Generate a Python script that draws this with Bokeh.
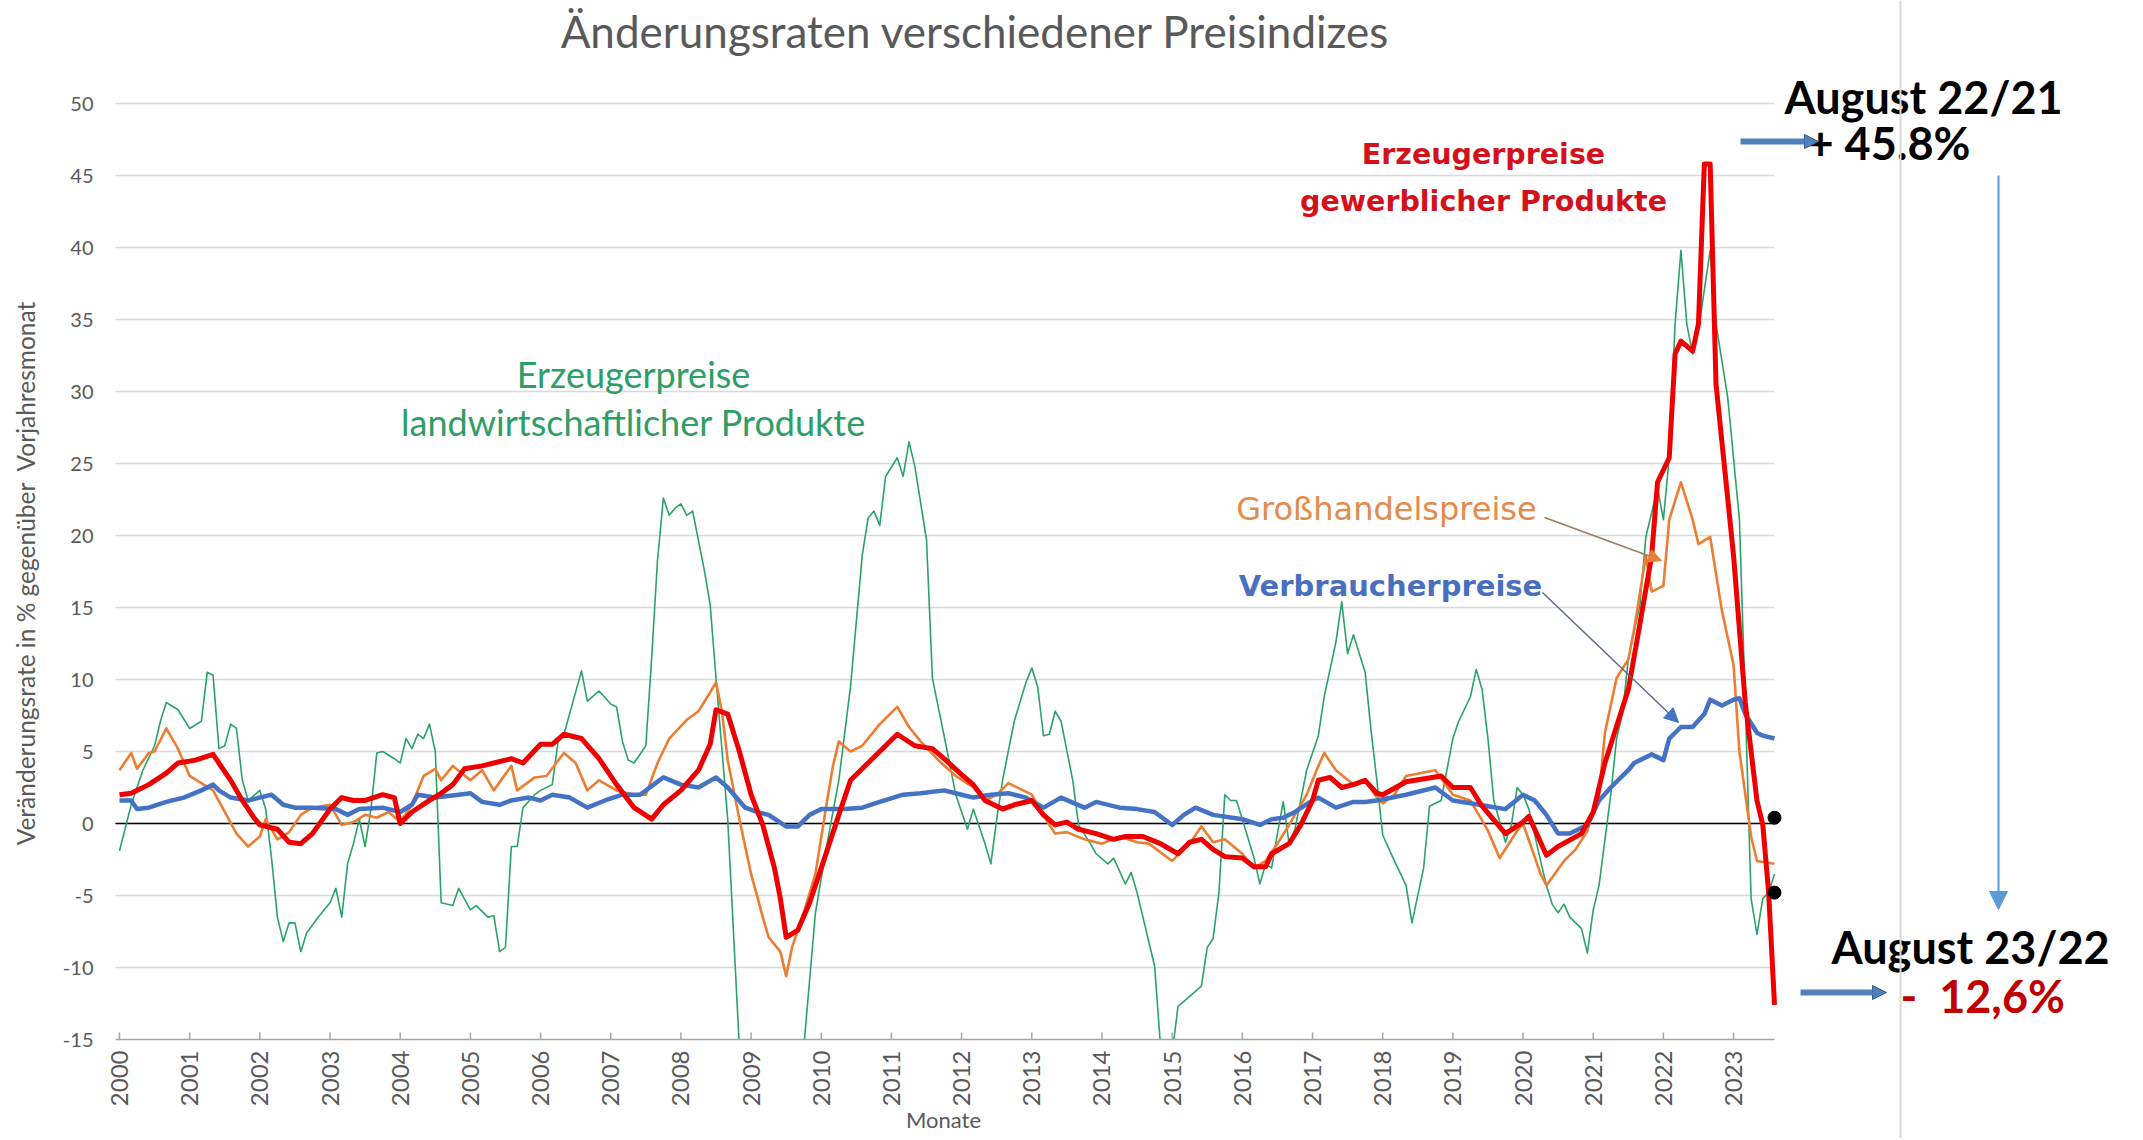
import numpy as np
from bokeh.plotting import figure
from bokeh.models import Range1d, Label, Arrow, NormalHead
from bokeh.core.properties import value
from bokeh.embed import file_html
from bokeh.resources import INLINE

NB = "\u00a0"
# ---------------- data ----------------
title_text = "Änderungsraten verschiedener Preisindizes"
y_title = "Veränderungsrate in % gegenüber" + NB + NB + "Vorjahresmonat"
x_title = "Monate"
year_ticks = list(range(2000, 2024))
value_ticks = list(range(-15, 51, 5))

# Erzeugerpreise gewerblicher Produkte (red)
red_months = ["2000-01","2000-03","2000-06","2000-09","2000-11","2001-02","2001-05","2001-06","2001-08","2001-10","2001-12",
              "2002-01","2002-04","2002-06","2002-08","2002-10","2003-01","2003-03","2003-05","2003-07","2003-10","2003-12",
              "2004-01","2004-03","2004-06","2004-08","2004-10","2004-12","2005-03","2005-05","2005-08","2005-10",
              "2006-01","2006-03","2006-05","2006-08","2006-11","2007-02","2007-05","2007-08","2007-10",
              "2008-01","2008-04","2008-06","2008-07","2008-09","2008-11","2009-01","2009-03","2009-05","2009-06","2009-07","2009-09","2009-11",
              "2010-01","2010-04","2010-06","2010-08","2010-11","2011-02","2011-05","2011-08","2011-10",
              "2012-01","2012-03","2012-05","2012-08","2012-10","2013-01","2013-03","2013-05","2013-07","2013-09","2013-12",
              "2014-03","2014-05","2014-08","2014-11","2015-02","2015-04","2015-06","2015-08","2015-10",
              "2016-01","2016-03","2016-05","2016-06","2016-09","2016-11","2017-01","2017-02","2017-04","2017-06","2017-08","2017-10","2017-12",
              "2018-01","2018-05","2018-11","2019-01","2019-04","2019-06","2019-10","2020-01","2020-02","2020-05","2020-07","2020-11",
              "2021-01","2021-03","2021-07","2021-09","2021-11","2021-12","2022-02","2022-03","2022-04","2022-06","2022-07","2022-08","2022-09","2022-10",
              "2023-01","2023-03","2023-05","2023-06","2023-07","2023-08"]
red_values = [2.0, 2.1, 2.7, 3.5, 4.2, 4.4, 4.8, 4.2, 3.0, 1.6, 0.4,
              -0.1, -0.4, -1.3, -1.4, -0.7, 1.0, 1.8, 1.6, 1.6, 2.0, 1.8,
              0.0, 0.8, 1.6, 2.1, 2.7, 3.8, 4.0, 4.2, 4.5, 4.2,
              5.5, 5.5, 6.2, 5.9, 4.5, 2.7, 1.1, 0.3, 1.3,
              2.3, 3.7, 5.5, 7.9, 7.6, 5.0, 2.0, -0.1, -3.1, -5.2, -7.9, -7.4, -5.5,
              -3.1, 0.6, 3.0, 3.8, 5.0, 6.2, 5.4, 5.2, 4.5,
              3.4, 2.7, 1.6, 1.0, 1.3, 1.6, 0.6, -0.1, 0.1, -0.4, -0.7,
              -1.1, -0.9, -0.9, -1.4, -2.1, -1.3, -1.1, -1.8, -2.3,
              -2.4, -3.0, -3.0, -2.1, -1.4, -0.1, 1.6, 3.0, 3.2, 2.5, 2.7, 3.0, 2.1,
              2.0, 2.9, 3.3, 2.5, 2.5, 1.2, -0.7, 0.1, 0.5, -2.2, -1.6, -0.7,
              0.8, 4.2, 9.3, 13.9, 18.6, 23.7, 25.4, 32.6, 33.5, 32.8, 34.7, 45.8, 45.8, 30.5,
              18.6, 8.4, 1.6, -0.1, -4.8, -12.6]

# Großhandelspreise (orange)
orange_months = ["2000-01","2000-03","2000-04","2000-06","2000-07","2000-09","2000-11","2001-01","2001-03","2001-05","2001-07","2001-09","2001-11",
                 "2002-01","2002-02","2002-04","2002-06","2002-08","2002-10","2003-01","2003-03","2003-05","2003-07","2003-09","2003-11",
                 "2004-01","2004-03","2004-05","2004-07","2004-08","2004-10","2005-01","2005-03","2005-05","2005-08","2005-09","2005-12",
                 "2006-02","2006-05","2006-07","2006-09","2006-11","2007-02","2007-05","2007-07","2007-09","2007-11",
                 "2008-02","2008-04","2008-06","2008-07","2008-08","2008-09","2008-11","2009-01","2009-03","2009-04","2009-06","2009-07","2009-08","2009-10","2009-12",
                 "2010-02","2010-03","2010-04","2010-06","2010-08","2010-11","2011-02","2011-04","2011-06","2011-09","2011-12",
                 "2012-03","2012-05","2012-07","2012-09","2013-01","2013-04","2013-05","2013-07","2013-10",
                 "2014-01","2014-04","2014-07","2014-09","2015-01","2015-04","2015-06","2015-08","2015-10",
                 "2016-01","2016-03","2016-05","2016-07","2016-09","2016-12","2017-02","2017-03","2017-05","2017-08","2017-10","2017-12",
                 "2018-01","2018-03","2018-05","2018-10","2019-01","2019-04","2019-07","2019-09","2019-12",
                 "2020-01","2020-04","2020-05","2020-08","2020-10","2020-12","2021-02","2021-03","2021-05","2021-07","2021-08","2021-10","2021-11",
                 "2022-01","2022-02","2022-04","2022-06","2022-07","2022-09","2022-11","2023-01","2023-02","2023-04","2023-05","2023-08"]
orange_values = [3.7, 4.9, 3.8, 4.9, 5.0, 6.6, 5.2, 3.3, 2.8, 2.3, 0.8, -0.7, -1.6,
                 -0.9, 0.3, -1.1, -0.6, 0.6, 1.1, 1.3, -0.1, 0.1, 0.6, 0.4, 0.8,
                 0.1, 1.3, 3.3, 3.8, 3.0, 4.0, 3.0, 3.7, 2.3, 4.0, 2.3, 3.2,
                 3.3, 4.9, 4.2, 2.3, 3.0, 2.3, 2.0, 2.0, 4.2, 5.9,
                 7.2, 7.8, 9.1, 9.8, 7.8, 4.4, 0.3, -3.5, -6.5, -7.9, -8.9, -10.6, -8.6, -6.2, -3.5,
                 1.6, 4.0, 5.7, 5.0, 5.4, 6.9, 8.1, 6.7, 5.7, 4.4, 3.3,
                 2.5, 1.6, 2.0, 2.8, 2.0, -0.1, -0.7, -0.6, -1.1,
                 -1.4, -0.9, -1.3, -1.4, -2.6, -1.4, -0.2, -1.3, -1.1,
                 -2.1, -3.1, -2.6, -1.4, -0.1, 2.0, 4.0, 4.9, 3.7, 2.7, 3.0, 1.8,
                 1.4, 2.0, 3.3, 3.7, 2.0, 1.6, -0.5, -2.4, -0.5,
                 0.0, -3.5, -4.3, -2.6, -1.8, -0.5, 2.0, 6.3, 10.1, 11.4, 13.5, 18.6, 16.1,
                 16.5, 21.1, 23.7, 21.1, 19.4, 19.9, 14.8, 11.0, 5.0, -0.9, -2.6, -2.8]

# Verbraucherpreise (blue)
blue_months = ["2000-01","2000-03","2000-04","2000-06","2000-09","2000-12","2001-03","2001-05","2001-06","2001-08","2001-11",
               "2002-03","2002-05","2002-07","2002-10","2003-02","2003-04","2003-06","2003-10","2004-01","2004-03","2004-04","2004-07","2004-11",
               "2005-01","2005-03","2005-06","2005-08","2005-11","2006-01","2006-03","2006-06","2006-09","2006-12","2007-03","2007-06","2007-10",
               "2008-01","2008-04","2008-07","2008-09","2008-12","2009-02","2009-04","2009-07","2009-09","2009-11",
               "2010-01","2010-05","2010-08","2010-11","2011-03","2011-06","2011-10","2011-12","2012-01","2012-03","2012-06","2012-09","2012-12",
               "2013-03","2013-06","2013-10","2013-12","2014-04","2014-07","2014-10","2015-01","2015-03","2015-05","2015-08",
               "2016-01","2016-04","2016-06","2016-08","2016-10","2017-01","2017-02","2017-05","2017-08","2017-10","2017-12",
               "2018-05","2018-10","2019-01","2019-04","2019-07","2019-10","2020-01","2020-03","2020-05","2020-07","2020-09","2020-12",
               "2021-02","2021-04","2021-07","2021-08","2021-11","2022-01","2022-02","2022-04","2022-06","2022-08","2022-09","2022-11",
               "2023-01","2023-02","2023-03","2023-05","2023-06","2023-08"]
blue_values = [1.6, 1.6, 1.0, 1.1, 1.5, 1.8, 2.3, 2.7, 2.3, 1.8, 1.6,
               2.0, 1.3, 1.1, 1.1, 1.0, 0.6, 1.0, 1.1, 0.8, 1.3, 2.0, 1.8, 2.0,
               2.1, 1.5, 1.3, 1.6, 1.8, 1.6, 2.0, 1.8, 1.1, 1.6, 2.0, 2.0, 3.2,
               2.7, 2.5, 3.2, 2.5, 1.1, 0.8, 0.6, -0.2, -0.2, 0.6,
               1.0, 1.0, 1.1, 1.5, 2.0, 2.1, 2.3, 2.1, 2.0, 1.8, 2.0, 2.1, 1.8,
               1.1, 1.8, 1.1, 1.5, 1.1, 1.0, 0.8, -0.1, 0.6, 1.1, 0.6,
               0.3, -0.1, 0.3, 0.4, 0.8, 1.6, 1.8, 1.1, 1.5, 1.5, 1.6,
               2.0, 2.5, 1.6, 1.4, 1.2, 1.0, 2.0, 1.6, 0.6, -0.7, -0.7, -0.1,
               1.6, 2.5, 3.7, 4.2, 4.8, 4.4, 5.9, 6.7, 6.7, 7.6, 8.6, 8.2,
               8.6, 8.7, 7.6, 6.3, 6.1, 5.9]

# Erzeugerpreise landwirtschaftlicher Produkte (green)
green_months = ["2000-01","2000-03","2000-05","2000-07","2000-08","2000-09","2000-11","2001-01","2001-03","2001-04","2001-05","2001-06","2001-07","2001-08","2001-09","2001-10","2001-11",
                "2002-01","2002-02","2002-03","2002-04","2002-05","2002-06","2002-07","2002-08","2002-09","2002-11",
                "2003-01","2003-02","2003-03","2003-04","2003-05","2003-06","2003-07","2003-08","2003-09","2003-10","2003-12",
                "2004-01","2004-02","2004-03","2004-04","2004-05","2004-06","2004-07","2004-08","2004-10","2004-11",
                "2005-01","2005-02","2005-04","2005-05","2005-06","2005-07","2005-08","2005-09","2005-10","2005-12",
                "2006-01","2006-03","2006-04","2006-05","2006-08","2006-09","2006-11","2007-01","2007-02","2007-03","2007-04","2007-05","2007-07","2007-08","2007-09","2007-10","2007-11","2007-12",
                "2008-01","2008-02","2008-03","2008-05","2008-06","2008-07","2008-09","2008-11","2009-01","2009-04","2009-07","2009-10","2009-12",
                "2010-02","2010-04","2010-06","2010-08","2010-09","2010-10","2010-11","2010-12","2011-02","2011-03","2011-04","2011-05","2011-07","2011-08","2011-10","2011-12",
                "2012-02","2012-03","2012-05","2012-06","2012-07","2012-08","2012-10","2012-12","2013-01","2013-02","2013-03","2013-04","2013-05","2013-06","2013-08","2013-09","2013-11","2013-12",
                "2014-02","2014-03","2014-05","2014-06","2014-07","2014-08","2014-10","2014-11","2014-12","2015-01","2015-02","2015-04","2015-06","2015-07","2015-08","2015-09","2015-10","2015-11","2015-12",
                "2016-01","2016-03","2016-04","2016-05","2016-06","2016-07","2016-08","2016-09","2016-10","2016-12","2017-02","2017-03","2017-05","2017-06","2017-07","2017-08","2017-10","2017-11","2017-12",
                "2018-01","2018-03","2018-05","2018-06","2018-08","2018-09","2018-11","2019-01","2019-02","2019-04","2019-05","2019-06","2019-07","2019-08","2019-10","2019-11","2019-12",
                "2020-01","2020-02","2020-04","2020-05","2020-06","2020-07","2020-08","2020-09","2020-11","2020-12",
                "2021-01","2021-02","2021-04","2021-05","2021-06","2021-07","2021-09","2021-10","2021-12",
                "2022-01","2022-02","2022-03","2022-04","2022-05","2022-06","2022-07","2022-09","2022-10","2022-12",
                "2023-02","2023-03","2023-04","2023-05","2023-06","2023-07","2023-08"]
green_values = [-1.9, 1.3, 3.7, 5.4, 7.1, 8.4, 7.9, 6.6, 7.1, 10.5, 10.3, 5.2, 5.4, 6.9, 6.6, 3.0, 1.6,
                2.3, 1.0, -2.4, -6.5, -8.2, -6.9, -6.9, -8.9, -7.6, -6.5,
                -5.5, -4.5, -6.5, -2.8, -1.4, 0.3, -1.6, 1.0, 4.9, 5.0, 4.5,
                4.2, 5.9, 5.2, 6.2, 5.9, 6.9, 5.0, -5.5, -5.7, -4.5,
                -6.0, -5.7, -6.5, -6.4, -8.9, -8.6, -1.6, -1.6, 1.1, 2.0,
                2.3, 2.7, 5.7, 6.2, 10.6, 8.5, 9.2, 8.3, 8.1, 5.7, 4.4, 4.2, 5.4, 11.5, 18.3, 22.6, 21.4, 21.9,
                22.2, 21.4, 21.7, 17.6, 15.2, 10.1, 0.3, -15.6, -20.0, -24.0, -22.0, -15.6, -6.2,
                -1.4, 3.0, 9.5, 18.6, 21.2, 21.7, 20.7, 24.1, 25.4, 24.1, 26.5, 24.8, 19.7, 10.1, 6.1, 2.0,
                -0.4, 1.0, -1.4, -2.8, 0.3, 3.0, 7.1, 9.8, 10.8, 9.5, 6.1, 6.2, 7.8, 7.1, 3.0, -0.1, -1.4, -2.1,
                -2.8, -2.4, -4.2, -3.4, -4.8, -6.5, -9.9, -15.4, -17.0, -16.0, -12.7, -12.0, -11.3, -8.6, -8.0, -4.8, 2.0, 1.6, 1.6,
                0.3, -2.4, -4.2, -2.8, -3.1, -0.7, 1.5, -1.4, -0.4, 3.7, 6.1, 8.8, 12.6, 15.4, 11.8, 13.1, 10.5, 6.5, 3.0,
                -0.8, -2.6, -4.3, -6.9, -3.1, 1.2, 1.6, 5.9, 7.1, 8.8, 10.7, 9.3, 5.9, 1.6, -1.3, -0.1, 2.5,
                2.0, 1.0, -2.6, -4.3, -5.6, -6.2, -5.6, -6.5, -7.3, -9.0,
                -6.0, -4.3, 2.0, 5.9, 7.6, 11.4, 15.2, 19.9, 23.3,
                21.1, 25.4, 34.7, 39.8, 34.7, 32.6, 34.3, 39.8, 34.7, 29.6,
                21.1, 8.4, -5.2, -7.7, -5.2, -4.8, -3.5]

# the two black dots at the end of the red series
dot_months = ["2023-08", "2023-08"]
dot_values = [0.4, -4.8]

# ---------------- layout (page pixels of the reference) ----------------
W, H = 2127, 1138
FL, FR = 115, 1774          # page px of the data area (x)
FT, FB = 103, 1039          # page px of value 50 / -15
XA0, XA1 = 1999.943, 2023 + 7 / 12
YA0, YA1 = -15, 50
PPX = (FR - FL) / (XA1 - XA0)
PPY = (FB - FT) / (YA1 - YA0)
GRAY = "#595959"


def ax(px):  # page pixel -> data x
    return XA0 + (px - FL) / PPX


def ay(py):  # page pixel -> data y
    return YA1 - (py - FT) / PPY


def to_x(months):
    return [int(m[:4]) + (int(m[5:7]) - 1) / 12 for m in months]


p = figure(width=W, height=H, output_backend="svg", toolbar_location=None,
           x_range=Range1d(ax(0), ax(W)), y_range=Range1d(ay(H), ay(0)),
           x_axis_type=None, y_axis_type=None,
           min_border_left=0, min_border_right=0, min_border_top=0, min_border_bottom=0)
p.outline_line_color = None
p.background_fill_color = "white"
p.border_fill_color = "white"
p.xgrid.visible = False
p.ygrid.visible = False

# horizontal grid lines (only across the data area) and zero line
grid_vals = [v for v in value_ticks if v > YA0]
p.segment(x0=[XA0] * len(grid_vals), y0=grid_vals, x1=[XA1] * len(grid_vals), y1=grid_vals,
          line_color="#d9d9d9", line_width=1.5)
p.segment(x0=[XA0], y0=[0], x1=[XA1], y1=[0], line_color="black", line_width=1.6)

# series
p.line(to_x(green_months), green_values, line_color="#2aa36a", line_width=1.6, line_join="round")
p.line(to_x(orange_months), orange_values, line_color="#ed7d31", line_width=2.6, line_join="round")
p.line(to_x(blue_months), blue_values, line_color="#4472c4", line_width=4.5, line_join="round")
p.line(to_x(red_months), red_values, line_color="#ee0000", line_width=5, line_join="round")

# white mask below the x axis (values below -15 run off the chart)
p.quad(left=[ax(0)], right=[ax(1800)], top=[YA0], bottom=[ay(H)], fill_color="white", line_color=None)

# x axis line, ticks and labels
p.segment(x0=[XA0], y0=[YA0], x1=[XA1], y1=[YA0], line_color="#a6a6a6", line_width=1.5)
p.segment(x0=year_ticks, y0=[YA0] * len(year_ticks), x1=year_ticks, y1=[YA0 + 7 / PPY] * len(year_ticks),
          line_color="#a6a6a6", line_width=1.5)
p.text(x=year_ticks, y=[ay(1050)] * len(year_ticks), text=[str(t) for t in year_ticks],
       angle=np.pi / 2, text_align="right", text_baseline="middle",
       text_font=value("Lato"), text_font_size="24px", text_color=GRAY)

# y tick labels
p.text(x=[ax(93)] * len(value_ticks), y=value_ticks, text=[str(v) for v in value_ticks],
       text_align="right", text_baseline="middle",
       text_font=value("Lato"), text_font_size="20px", text_color=GRAY)

p.scatter(to_x(dot_months), dot_values, size=13, color="black")


# texts
def lab(x, y, text, size, color, font="Lato", style="normal", align="left", angle=0):
    p.add_layout(Label(x=ax(x), y=ay(y), text=text, text_font=font, text_font_size=size,
                       text_font_style=style, text_color=color, text_align=align,
                       text_baseline="middle", angle=angle))


lab(25, 573, y_title, "24.5px", GRAY, align="center", angle=np.pi / 2)
lab(943, 1119, x_title, "22px", GRAY, align="center")
lab(975, 30, title_text, "44px", GRAY, align="center")
lab(1483, 154, "Erzeugerpreise", "28.5px", "#d4111b", font="DejaVu Sans", style="bold", align="center")
lab(1483, 201, "gewerblicher Produkte", "28.5px", "#d4111b", font="DejaVu Sans", style="bold", align="center")
lab(633, 373, "Erzeugerpreise", "36px", "#2e9e66", align="center")
lab(633, 421, "landwirtschaftlicher Produkte", "36px", "#2e9e66", align="center")
lab(1386, 508, "Großhandelspreise", "32px", "#e38b4b", font="DejaVu Sans", align="center")
lab(1390, 585, "Verbraucherpreise", "29px", "#4a6fc0", font="DejaVu Sans", style="bold", align="center")

lab(1784, 96, "August 22/21", "45px", "black", style="bold")
lab(1807, 142, "+ 45.8%", "45px", "black", style="bold")
lab(1831, 946, "August 23/22", "45px", "black", style="bold")
lab(1900, 995, "-" + NB + NB + "12,6%", "45px", "#c00000", style="bold")


# arrows and separator
def arr(x0, y0, x1, y1, color, width, head=None):
    p.add_layout(Arrow(x_start=ax(x0), y_start=ay(y0), x_end=ax(x1), y_end=ay(y1),
                       line_color=color, line_width=width, end=head))


arr(1900, 0, 1900, 1140, "#d9d9d9", 2)
arr(1544, 517, 1661, 560, "#9c7a5e", 1.5, NormalHead(size=13, fill_color="#ed7d31", line_color="#ed7d31"))
arr(1542, 592, 1678, 722, "#5b6b8c", 1.5, NormalHead(size=14, fill_color="#4472c4", line_color="#4472c4"))
arr(1740, 141, 1818, 141, "#4f81bd", 6, NormalHead(size=14, fill_color="#4f81bd", line_color="#385d8a"))
arr(1800, 992, 1886, 992, "#4f81bd", 6, NormalHead(size=14, fill_color="#4f81bd", line_color="#385d8a"))
arr(1998, 175, 1998, 909, "#5b9bd5", 2, NormalHead(size=18, fill_color="#5b9bd5", line_color="#5b9bd5"))

open("out.html", "w").write(file_html(p, INLINE))
